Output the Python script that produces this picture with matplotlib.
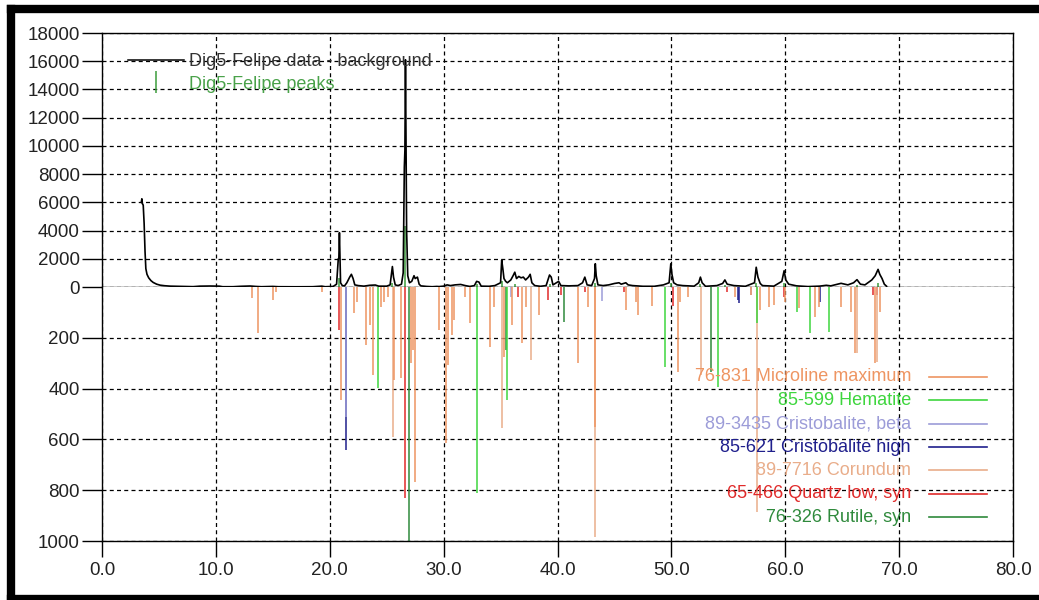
import matplotlib
matplotlib.use("Agg")
import matplotlib.pyplot as plt
from matplotlib.lines import Line2D

plt.rcParams['font.family'] = ['Liberation Sans', 'DejaVu Sans']

# --- data -----------------------------------------------------------------
# measured pattern (data - background), counts vs 2theta
curve_2theta = [3.45, 3.50, 3.55, 3.62, 3.70, 3.78, 3.85, 3.95, 4.10, 4.30,
                4.50, 4.80, 5.10, 5.50, 6.00, 7.00, 8.00, 8.60, 9.50, 10.3,
                10.6, 11.5, 12.2, 13.0, 13.5, 14.0, 15.0, 15.5, 17.0, 18.5,
                19.3, 19.6, 20.3, 20.6, 20.75, 20.80, 20.85, 20.90, 20.95, 21.10,
                21.30, 21.50, 21.75, 21.90, 22.05, 22.20, 22.50, 23.00, 23.50, 24.00,
                24.30, 25.00, 25.30, 25.50, 25.60, 25.75, 26.00, 26.30, 26.45, 26.55,
                26.60, 26.65, 26.70, 26.75, 26.85, 27.00, 27.20, 27.40, 27.50, 27.70,
                27.85, 28.00, 28.50, 29.00, 29.40, 29.60, 30.00, 30.30, 30.60, 31.00,
                31.50, 31.90, 32.30, 32.70, 32.90, 33.10, 33.30, 34.00, 34.50, 35.00,
                35.10, 35.20, 35.30, 35.45, 35.60, 35.90, 36.10, 36.25, 36.40, 36.60,
                36.80, 37.00, 37.20, 37.45, 37.60, 37.75, 38.00, 38.50, 39.00, 39.30,
                39.45, 39.60, 39.90, 40.10, 40.30, 41.00, 41.80, 42.20, 42.40, 42.60,
                43.00, 43.25, 43.32, 43.40, 43.55, 44.00, 44.50, 45.00, 45.40, 45.60,
                46.00, 46.20, 46.60, 47.50, 48.50, 49.30, 49.80, 49.95, 50.05, 50.20,
                50.50, 51.00, 52.00, 52.40, 52.55, 52.70, 53.00, 54.00, 54.50, 54.70,
                54.90, 55.50, 56.50, 57.30, 57.45, 57.60, 57.80, 58.00, 59.00, 59.70,
                59.90, 60.05, 60.30, 61.00, 62.00, 63.00, 63.60, 64.00, 64.90, 65.50,
                66.00, 66.30, 66.60, 67.00, 67.60, 67.90, 68.15, 68.30, 68.50, 68.70,
                68.90]
curve_counts = [6000, 6250, 5900, 5800, 4500, 2500, 1300, 900, 650, 450,
                320, 200, 130, 90, 60, 40, 25, 60, 70, 60,
                20, 20, 50, 70, 40, 20, 40, 20, 15, 20,
                60, 20, 40, 200, 2000, 2050, 3850, 2000, 300, 100,
                80, 300, 700, 900, 600, 150, 100, 60, 120, 140,
                60, 60, 150, 1450, 700, 150, 100, 200, 1000, 8500,
                9700, 16100, 9500, 4000, 800, 300, 400, 800, 600, 700,
                200, 80, 40, 20, 40, 30, 60, 150, 100, 150,
                180, 100, 40, 100, 400, 350, 60, 50, 100, 300,
                1900, 1300, 600, 400, 300, 500, 800, 1050, 600, 750,
                650, 700, 500, 700, 900, 300, 100, 50, 100, 850,
                700, 150, 300, 400, 100, 80, 100, 300, 700, 150,
                100, 600, 1650, 800, 150, 100, 150, 250, 300, 200,
                300, 150, 100, 50, 50, 150, 300, 1650, 900, 300,
                150, 100, 60, 300, 700, 300, 50, 100, 250, 500,
                200, 100, 50, 300, 1400, 700, 250, 100, 60, 400,
                1150, 500, 200, 80, 30, 60, 120, 80, 260, 150,
                300, 520, 200, 150, 500, 800, 1250, 900, 600, 200,
                50]

# peak search result (green sticks in the upper panel)
peaks_2theta = [20.85, 25.50, 26.65, 32.95, 35.15, 36.25, 39.35, 43.32,
                50.00, 52.55, 54.70, 57.45, 59.90, 66.30, 68.15]
peaks_counts = [650, 300, 4300, 200, 400, 200, 200, 300,
                300, 200, 150, 300, 250, 150, 300]

# reference patterns (sticks, relative intensity 0-1000, drawn downward)
microline_2theta = [13.2, 13.7, 15.0, 15.3, 19.3, 21.0, 22.1, 22.4, 23.2, 23.5,
                    23.8, 24.5, 24.8, 25.1, 25.6, 26.3, 27.1, 27.3, 27.5, 29.6,
                    30.2, 30.35, 30.76, 30.9, 31.9, 32.35, 34.05, 34.4, 35.3, 36.0,
                    36.85, 37.2, 38.4, 41.8, 42.7, 43.25, 46.0, 46.9, 47.1, 48.3,
                    50.6, 50.8, 51.5, 55.6, 57.0, 57.8, 58.6, 59.0, 60.0, 61.2,
                    62.6, 63.0, 64.9, 65.8, 66.1, 67.9, 68.3]
microline_int = [44, 182, 50, 20, 20, 445, 103, 60, 228, 150,
                 346, 80, 60, 40, 366, 358, 300, 250, 766, 170,
                 615, 307, 190, 130, 38, 143, 235, 80, 274, 150,
                 222, 80, 110, 300, 80, 550, 90, 60, 110, 75,
                 333, 60, 40, 40, 30, 90, 80, 70, 60, 84,
                 120, 80, 80, 100, 261, 300, 100]

hematite_2theta = [24.2, 32.93, 35.55, 49.4, 54.1, 57.55, 61.0, 62.2, 63.8]
hematite_int = [398, 812, 444, 314, 392, 140, 100, 181, 176]

cristo_beta_2theta = [21.4, 35.9, 43.9, 57.0]
cristo_beta_int = [510, 40, 55, 30]

cristo_high_2theta = [21.45, 55.85, 55.95, 63.05]
cristo_high_int = [640, 51, 62, 58]

corundum_2theta = [25.55, 35.16, 37.7, 43.3, 52.6, 57.5, 66.3, 68.1]
corundum_int = [589, 556, 287, 983, 346, 885, 261, 294]

quartz_2theta = [20.85, 26.65, 36.5, 39.2, 40.3, 42.4, 45.8, 50.1, 54.9, 59.9, 67.7, 68.1]
quartz_int = [170, 832, 40, 51, 30, 20, 20, 75, 20, 40, 30, 30]

rutile_2theta = [26.98, 35.45, 40.6, 53.5]
rutile_int = [1000, 250, 137, 333]

phase_names = ['76-831 Microline maximum', '85-599 Hematite',
               '89-3435 Cristobalite, beta', '85-621 Cristobalite high',
               '89-7716 Corundum', '65-466 Quartz low, syn', '76-326 Rutile, syn']
phase_colors = ['#ee9562', '#3ed63e', '#9c9cd8', '#1f1f8c',
                '#e9ad8a', '#e02a2a', '#2f8a3c']
phase_x = [microline_2theta, hematite_2theta, cristo_beta_2theta, cristo_high_2theta,
           corundum_2theta, quartz_2theta, rutile_2theta]
phase_y = [microline_int, hematite_int, cristo_beta_int, cristo_high_int,
           corundum_int, quartz_int, rutile_int]

counts_ticks = list(range(0, 18001, 2000))
int_ticks = [200, 400, 600, 800, 1000]
x_ticks = list(range(0, 81, 10))

# --- figure ----------------------------------------------------------------
fig = plt.figure(figsize=(10.39, 6.0), dpi=100)
ax_top = fig.add_axes([102 / 1039, 313 / 600, 911 / 1039, 254 / 600])
ax_bot = fig.add_axes([102 / 1039, 59 / 600, 911 / 1039, 254 / 600], sharex=ax_top)

grid_kw = dict(color='black', linestyle=(0, (3.2, 2.6)), linewidth=0.9)
txt_color = '#222222'

for ax in (ax_top, ax_bot):
    ax.set_xlim(0, 80)
    ax.set_xticks(x_ticks)
    ax.grid(True, **grid_kw)
    ax.set_axisbelow(True)
    for sp in ax.spines.values():
        sp.set_linewidth(1.0)
    ax.tick_params(axis='y', direction='out', length=14.4, width=1.0, pad=1.5,
                   labelsize=13.5, labelcolor=txt_color)

# upper panel: counts
ax_top.set_ylim(0, 18000)
ax_top.set_yticks(counts_ticks)
ax_top.tick_params(axis='x', length=0, labelbottom=False)
ax_top.vlines(peaks_2theta, 0, peaks_counts, colors='#3c9c3c', linewidth=1.1)
ax_top.plot(curve_2theta, curve_counts, color='black', linewidth=1.2)

# lower panel: reference sticks, inverted
ax_bot.set_ylim(1000, 0)
ax_bot.set_yticks(int_ticks)
ax_bot.spines['top'].set_visible(False)
ax_bot.tick_params(axis='x', direction='out', length=11.5, width=1.0, pad=3.5,
                   labelsize=13.5, labelcolor=txt_color)
ax_bot.set_xticklabels([f'{v:.1f}' for v in x_ticks])

for xs, ys, col in reversed(list(zip(phase_x, phase_y, phase_colors))):
    ax_bot.vlines(xs, 0, ys, colors=col, linewidth=1.1)

# upper legend
handles = [Line2D([], [], color='black', linewidth=1.1),
           Line2D([], [], color='#3c9c3c', marker='|', linestyle='none',
                  markersize=16, markeredgewidth=1.1)]
ax_top.legend(handles, ['Dig5-Felipe data - background', 'Dig5-Felipe peaks'],
              loc='upper left', bbox_to_anchor=(0.0285, 0.92), frameon=False,
              fontsize=13, handlelength=3.1, handletextpad=0.3, labelspacing=0.3,
              borderpad=0, borderaxespad=0, labelcolor=['#333333', '#4aa24a'])

# lower legend: label on the left, line sample on the right
row0, step = 0.646, 0.0921
for i, (name, col) in enumerate(zip(phase_names, phase_colors)):
    yy = row0 - i * step
    ax_bot.text(0.888, yy, name, transform=ax_bot.transAxes, ha='right', va='center',
                fontsize=13, color=col)
    ax_bot.plot([0.908, 0.971], [yy, yy], transform=ax_bot.transAxes,
                color=col, linewidth=1.2)

# thick black frame on top, left and bottom of the picture
frame_kw = dict(transform=fig.transFigure, color='black', linewidth=6,
                solid_capstyle='projecting')
fig.add_artist(Line2D([11 / 1039, 1.0], [591 / 600, 591 / 600], **frame_kw))
fig.add_artist(Line2D([11 / 1039, 11 / 1039], [1 / 600, 591 / 600], **frame_kw))
fig.add_artist(Line2D([11 / 1039, 1.0], [1 / 600, 1 / 600], **frame_kw))

fig.savefig('out.png', dpi=100)
